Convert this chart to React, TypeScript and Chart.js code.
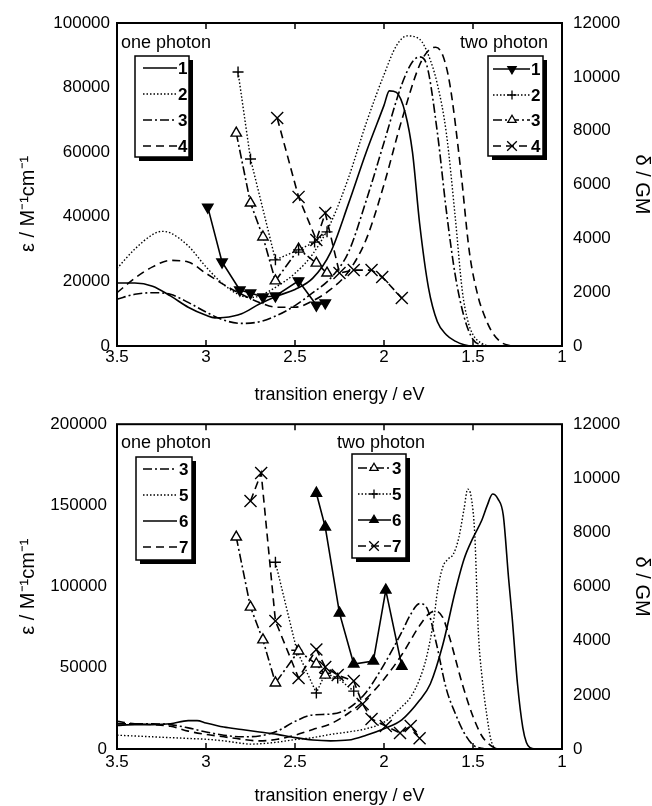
import { useEffect, useRef } from 'react'
import { Chart, registerables, type ChartConfiguration, type Plugin } from 'chart.js'

Chart.register(...registerables)

const FONT = '"Liberation Sans", Arial, Helvetica, sans-serif'

// ---- top panel, one photon (ε / M-1 cm-1) ----
const topEnergy1 = [3.5, 3.4, 3.3, 3.2, 3.1, 3.0, 2.95, 2.9, 2.8, 2.7, 2.6, 2.5, 2.4, 2.3, 2.2, 2.1, 2.0, 1.97, 1.93, 1.88, 1.84, 1.8, 1.75, 1.7, 1.65, 1.6, 1.55, 1.5, 1.0]
const topEps1 = [19500, 19500, 18500, 15500, 12000, 9500, 8700, 8800, 10000, 13000, 15500, 17500, 21000, 29000, 44000, 60000, 74500, 79000, 78500, 72000, 60000, 38000, 18000, 7500, 3500, 1500, 400, 0, 0]
const topEnergy2 = [3.5, 3.4, 3.3, 3.25, 3.2, 3.1, 3.0, 2.9, 2.8, 2.75, 2.7, 2.6, 2.5, 2.4, 2.3, 2.2, 2.1, 2.0, 1.93, 1.87, 1.8, 1.75, 1.7, 1.65, 1.6, 1.56, 1.53, 1.5, 1.45, 1.4, 1.0]
const topEps2 = [24000, 30000, 34500, 35500, 35000, 31000, 24500, 19000, 15500, 15000, 15500, 18500, 22500, 28500, 38000, 52000, 69000, 84000, 93000, 96000, 95000, 90000, 81000, 66000, 40000, 17000, 8000, 3500, 800, 0, 0]
const topEnergy3 = [3.5, 3.4, 3.3, 3.2, 3.1, 3.0, 2.9, 2.8, 2.7, 2.6, 2.5, 2.4, 2.3, 2.2, 2.1, 2.0, 1.9, 1.84, 1.8, 1.76, 1.7, 1.65, 1.6, 1.55, 1.5, 1.45, 1.4, 1.0]
const topEps3 = [14500, 16000, 16500, 16000, 13500, 10500, 8000, 7000, 7500, 9500, 12500, 16500, 21000, 29000, 45000, 63000, 81000, 88000, 89500, 87000, 66000, 42000, 22000, 9000, 2000, 300, 0, 0]
const topEnergy4 = [3.5, 3.4, 3.3, 3.2, 3.1, 3.0, 2.9, 2.8, 2.7, 2.6, 2.5, 2.4, 2.3, 2.2, 2.1, 2.0, 1.9, 1.8, 1.75, 1.71, 1.67, 1.63, 1.57, 1.52, 1.47, 1.44, 1.4, 1.35, 1.3, 1.25, 1.0]
const topEps4 = [16500, 21000, 24500, 26500, 26000, 22500, 19000, 16000, 13500, 12000, 12000, 14000, 17500, 23000, 33000, 50000, 70000, 87000, 91500, 92500, 90000, 81000, 55000, 29000, 15000, 10000, 5000, 1500, 200, 0, 0]

// ---- top panel, two photon (δ / GM) ----
const topTpEnergy1 = [2.99, 2.91, 2.81, 2.75, 2.68, 2.61, 2.48, 2.38, 2.33]
const topTpDelta1 = [5160, 3120, 2080, 1970, 1820, 1860, 2420, 1520, 1600]
const topTpEnergy2 = [2.82, 2.75, 2.61, 2.48, 2.39, 2.32]
const topTpDelta2 = [10180, 6950, 3200, 3570, 3860, 4240]
const topTpEnergy3 = [2.83, 2.75, 2.68, 2.61, 2.48, 2.38, 2.32]
const topTpDelta3 = [7910, 5310, 4050, 2420, 3600, 3080, 2710]
const topTpEnergy4 = [2.6, 2.48, 2.38, 2.33, 2.25, 2.17, 2.07, 2.01, 1.9]
const topTpDelta4 = [8470, 5540, 3940, 4940, 2710, 2820, 2820, 2560, 1780]

// ---- bottom panel, one photon ----
const botEnergy3 = [3.5, 3.4, 3.3, 3.2, 3.1, 3.0, 2.9, 2.8, 2.7, 2.6, 2.5, 2.4, 2.3, 2.2, 2.1, 2.0, 1.9, 1.85, 1.8, 1.76, 1.71, 1.65, 1.6, 1.55, 1.5, 1.45, 1.4, 1.0]
const botEps3 = [15500, 15500, 15500, 15000, 13000, 10500, 8500, 7500, 8000, 11000, 17000, 21000, 21500, 25000, 35000, 52000, 72000, 83000, 89500, 87000, 67000, 37000, 22000, 10000, 2500, 400, 0, 0]
const botEnergy5 = [3.5, 3.4, 3.3, 3.2, 3.1, 3.0, 2.9, 2.8, 2.75, 2.7, 2.6, 2.5, 2.4, 2.3, 2.2, 2.1, 2.0, 1.9, 1.85, 1.8, 1.76, 1.72, 1.7, 1.67, 1.64, 1.61, 1.58, 1.55, 1.53, 1.51, 1.49, 1.47, 1.45, 1.42, 1.4, 1.38, 1.35, 1.0]
const botEps5 = [8500, 8000, 7500, 7000, 6500, 6000, 5000, 3500, 3000, 3200, 4200, 5800, 7000, 9000, 10500, 12500, 16500, 26000, 32000, 43000, 57000, 80000, 97000, 112000, 117000, 120000, 130000, 148000, 160000, 155000, 132000, 72000, 45000, 19000, 6000, 1000, 0, 0]
const botEnergy6 = [3.5, 3.4, 3.3, 3.2, 3.1, 3.05, 3.0, 2.9, 2.8, 2.7, 2.6, 2.5, 2.4, 2.3, 2.2, 2.1, 2.0, 1.9, 1.8, 1.74, 1.67, 1.6, 1.55, 1.5, 1.45, 1.42, 1.39, 1.36, 1.33, 1.3, 1.28, 1.25, 1.22, 1.2, 1.18, 1.15, 1.0]
const botEps6 = [14500, 15000, 15000, 15500, 17500, 17500, 16000, 13500, 12000, 10500, 9000, 7000, 5500, 5000, 5500, 8500, 12500, 18000, 30000, 40000, 64000, 97000, 117000, 130000, 141000, 150000, 157000, 154000, 144000, 105000, 81000, 40000, 13000, 4000, 800, 0, 0]
const botEnergy7 = [3.5, 3.4, 3.3, 3.2, 3.1, 3.0, 2.9, 2.8, 2.7, 2.6, 2.5, 2.4, 2.3, 2.2, 2.1, 2.0, 1.9, 1.8, 1.75, 1.71, 1.67, 1.63, 1.56, 1.5, 1.45, 1.42, 1.38, 1.35, 1.0]
const botEps7 = [17000, 15500, 15000, 14000, 11000, 9000, 7500, 6000, 5000, 6000, 8500, 12000, 15500, 22000, 31000, 43000, 58000, 76000, 83000, 85000, 81000, 68000, 40000, 20000, 8000, 4000, 800, 0, 0]

// ---- bottom panel, two photon ----
const botTpEnergy3 = [2.83, 2.75, 2.68, 2.61, 2.48, 2.38, 2.33]
const botTpDelta3 = [7830, 5240, 4030, 2440, 3620, 3140, 2730]
const botTpEnergy5 = [2.61, 2.49, 2.38, 2.33, 2.26, 2.17]
const botTpDelta5 = [6900, 3650, 2070, 2800, 2620, 2140]
const botTpEnergy6 = [2.38, 2.33, 2.25, 2.17, 2.06, 1.99, 1.9]
const botTpDelta6 = [9450, 8200, 5020, 3140, 3250, 5870, 3060]
const botTpEnergy7 = [2.75, 2.69, 2.61, 2.48, 2.38, 2.33, 2.26, 2.17, 2.12, 2.07, 1.99, 1.91, 1.85, 1.8]
const botTpDelta7 = [9160, 10200, 4730, 2620, 3680, 3030, 2730, 2510, 1660, 1110, 850, 590, 850, 400]

const energyTicks = [3.5, 3, 2.5, 2, 1.5, 1]

type LineStyle = { dash: number[]; width: number }
const SOLID: LineStyle = { dash: [], width: 1.6 }
const DOTTED: LineStyle = { dash: [1.5, 2], width: 1.4 }
const DASHDOT: LineStyle = { dash: [9, 3, 2, 3], width: 1.6 }
const DASHED: LineStyle = { dash: [8, 5], width: 1.6 }

type Marker = { style: 'triangle' | 'cross' | 'crossRot'; rotation: number; fill: string; radius: number }
const TRI_DOWN: Marker = { style: 'triangle', rotation: 180, fill: '#000', radius: 6 }
const TRI_UP: Marker = { style: 'triangle', rotation: 0, fill: '#000', radius: 6 }
const TRI_OPEN: Marker = { style: 'triangle', rotation: 0, fill: '#fff', radius: 6 }
const PLUS: Marker = { style: 'cross', rotation: 0, fill: '#000', radius: 5.5 }
const XMARK: Marker = { style: 'crossRot', rotation: 0, fill: '#000', radius: 8.5 }

const xy = (xs: number[], ys: number[]) => xs.map((x, i) => ({ x, y: ys[i] }))

const onePhoton = (xs: number[], ys: number[], s: LineStyle) => ({
  data: xy(xs, ys),
  yAxisID: 'y',
  borderColor: '#000',
  borderWidth: s.width,
  borderDash: s.dash,
  pointRadius: 0,
  cubicInterpolationMode: 'monotone' as const,
  fill: false,
})

const twoPhoton = (xs: number[], ys: number[], s: LineStyle, m: Marker) => ({
  data: xy(xs, ys),
  yAxisID: 'y2',
  borderColor: '#000',
  borderWidth: s.width,
  borderDash: s.dash,
  tension: 0,
  pointStyle: m.style,
  pointRotation: m.rotation,
  pointRadius: m.radius,
  pointBackgroundColor: m.fill,
  pointBorderColor: '#000',
  pointBorderWidth: 1.4,
  fill: false,
})

const drawMarker = (ctx: CanvasRenderingContext2D, m: Marker, x: number, y: number, r: number) => {
  ctx.beginPath()
  if (m.style === 'triangle') {
    let rad = (m.rotation * Math.PI) / 180
    for (let i = 0; i < 3; i++) {
      const px = x + Math.sin(rad) * r
      const py = y - Math.cos(rad) * r
      if (i === 0) ctx.moveTo(px, py)
      else ctx.lineTo(px, py)
      rad += (2 * Math.PI) / 3
    }
    ctx.closePath()
    ctx.fillStyle = m.fill
    ctx.fill()
  } else if (m.style === 'cross') {
    ctx.moveTo(x, y - r)
    ctx.lineTo(x, y + r)
    ctx.moveTo(x - r, y)
    ctx.lineTo(x + r, y)
  } else {
    const o = r * Math.SQRT1_2
    ctx.moveTo(x - o, y - o)
    ctx.lineTo(x + o, y + o)
    ctx.moveTo(x - o, y + o)
    ctx.lineTo(x + o, y - o)
  }
  ctx.stroke()
}

type LegendRow = { label: string; line: LineStyle; marker?: Marker }
type LegendBox = {
  heading: string
  headX: number
  headY: number
  x: number
  y: number
  w: number
  h: number
  lineX0: number
  lineX1: number
  markX: number
  labelX: number
  rowY: number[]
  rows: LegendRow[]
}

const boxLegends = (boxes: LegendBox[]): Plugin<'line'> => ({
  id: 'boxLegends',
  afterDraw(chart) {
    const { ctx } = chart
    ctx.save()
    ctx.textBaseline = 'middle'
    ctx.textAlign = 'left'
    for (const b of boxes) {
      ctx.setLineDash([])
      ctx.fillStyle = '#000'
      ctx.font = `18px ${FONT}`
      ctx.fillText(b.heading, b.headX, b.headY)
      ctx.fillRect(b.x + 4, b.y + 4, b.w, b.h)
      ctx.fillStyle = '#fff'
      ctx.fillRect(b.x, b.y, b.w, b.h)
      ctx.strokeStyle = '#000'
      ctx.lineWidth = 1.5
      ctx.strokeRect(b.x, b.y, b.w, b.h)
      b.rows.forEach((row, i) => {
        const y = b.rowY[i]
        ctx.setLineDash(row.line.dash)
        ctx.lineWidth = row.line.width
        ctx.beginPath()
        ctx.moveTo(b.lineX0, y)
        ctx.lineTo(b.lineX1, y)
        ctx.stroke()
        ctx.setLineDash([])
        if (row.marker) {
          ctx.lineWidth = 1.3
          drawMarker(ctx, row.marker, b.markX, y, row.marker.radius * 0.8)
        }
        ctx.fillStyle = '#000'
        ctx.font = `bold 17px ${FONT}`
        ctx.fillText(row.label, b.labelX, y + 1)
      })
    }
    ctx.restore()
  },
})

const frameTicks: Plugin<'line'> = {
  id: 'frameTicks',
  afterDatasetsDraw(chart) {
    const { ctx, chartArea, scales } = chart
    const { left, right, top, bottom } = chartArea
    ctx.save()
    ctx.strokeStyle = '#000'
    ctx.lineWidth = 2
    ctx.strokeRect(left, top, right - left, bottom - top)
    ctx.lineWidth = 1.5
    ctx.beginPath()
    for (const t of scales.x.ticks) {
      const px = scales.x.getPixelForValue(t.value)
      ctx.moveTo(px, bottom)
      ctx.lineTo(px, bottom - 6)
      ctx.moveTo(px, top)
      ctx.lineTo(px, top + 6)
    }
    ctx.stroke()
    ctx.restore()
  },
}

type PanelSpec = {
  datasets: any[]
  yMax: number
  yStep: number
  leftTitle: string
  padTop: number
  xAxisHeight: number
  xTickPad: number
  xTitlePad: number
  leftTickPad: number
  legends: LegendBox[]
}

const buildConfig = (p: PanelSpec): ChartConfiguration<'line'> => {
  const tickFont = { family: FONT, size: 17 }
  const titleFont = { family: FONT, size: 18, lineHeight: 1 }
  const sideTitleFont = { family: FONT, size: 20, lineHeight: 1 }
  return {
    type: 'line',
    data: { datasets: p.datasets },
    options: {
      animation: false,
      responsive: true,
      maintainAspectRatio: false,
      events: [],
      layout: { padding: { top: p.padTop, left: 0, right: 0, bottom: 0 } },
      scales: {
        x: {
          type: 'linear',
          reverse: true,
          min: 1,
          max: 3.5,
          afterBuildTicks: (s) => {
            s.ticks = energyTicks.map((value) => ({ value }))
          },
          ticks: {
            color: '#000',
            font: tickFont,
            padding: p.xTickPad,
            maxRotation: 0,
            autoSkip: false,
            callback: (v) => String(v),
          },
          grid: { display: false, drawTicks: false },
          border: { display: false },
          title: {
            display: true,
            text: 'transition energy / eV',
            color: '#000',
            font: titleFont,
            padding: { top: 0, bottom: p.xTitlePad },
          },
          afterFit: (s) => {
            s.height = p.xAxisHeight
          },
        },
        y: {
          position: 'left',
          min: 0,
          max: p.yMax,
          ticks: {
            stepSize: p.yStep,
            color: '#000',
            font: tickFont,
            padding: p.leftTickPad,
            callback: (v) => String(v),
          },
          grid: { display: false, drawTicks: false },
          border: { display: false },
          title: {
            display: true,
            text: p.leftTitle,
            color: '#000',
            font: sideTitleFont,
            padding: { top: 18, bottom: 0 },
          },
          afterFit: (s) => {
            s.width = 117
          },
        },
        y2: {
          position: 'right',
          min: 0,
          max: 12000,
          ticks: {
            stepSize: 2000,
            color: '#000',
            font: tickFont,
            padding: 11,
            callback: (v) => String(v),
          },
          grid: { display: false, drawTicks: false },
          border: { display: false },
          title: {
            display: true,
            text: 'δ / GM',
            color: '#000',
            font: sideTitleFont,
            padding: { top: 0, bottom: 0 },
          },
          afterFit: (s) => {
            s.width = 90
          },
        },
      },
      plugins: {
        legend: { display: false },
        tooltip: { enabled: false },
      },
    },
    plugins: [frameTicks, boxLegends(p.legends)],
  }
}

const topSpec: PanelSpec = {
  datasets: [
    twoPhoton(topTpEnergy1, topTpDelta1, SOLID, TRI_DOWN),
    twoPhoton(topTpEnergy2, topTpDelta2, DOTTED, PLUS),
    twoPhoton(topTpEnergy3, topTpDelta3, DASHDOT, TRI_OPEN),
    twoPhoton(topTpEnergy4, topTpDelta4, DASHED, XMARK),
    onePhoton(topEnergy1, topEps1, SOLID),
    onePhoton(topEnergy2, topEps2, DOTTED),
    onePhoton(topEnergy3, topEps3, DASHDOT),
    onePhoton(topEnergy4, topEps4, DASHED),
  ],
  yMax: 100000,
  yStep: 20000,
  leftTitle: 'ε / M⁻¹cm⁻¹       ',
  padTop: 23,
  xAxisHeight: 64,
  xTickPad: 1,
  xTitlePad: 6,
  leftTickPad: 7,
  legends: [
    {
      heading: 'one photon',
      headX: 121,
      headY: 43,
      x: 135,
      y: 56,
      w: 54,
      h: 101,
      lineX0: 143,
      lineX1: 177,
      markX: 160,
      labelX: 178,
      rowY: [68, 94, 120, 146],
      rows: [
        { label: '1', line: SOLID },
        { label: '2', line: DOTTED },
        { label: '3', line: DASHDOT },
        { label: '4', line: DASHED },
      ],
    },
    {
      heading: 'two photon',
      headX: 460,
      headY: 43,
      x: 488,
      y: 56,
      w: 55,
      h: 100,
      lineX0: 493,
      lineX1: 530,
      markX: 512,
      labelX: 531,
      rowY: [69, 95, 120, 146],
      rows: [
        { label: '1', line: SOLID, marker: TRI_DOWN },
        { label: '2', line: DOTTED, marker: PLUS },
        { label: '3', line: DASHDOT, marker: TRI_OPEN },
        { label: '4', line: DASHED, marker: XMARK },
      ],
    },
  ],
}

const bottomSpec: PanelSpec = {
  datasets: [
    twoPhoton(botTpEnergy3, botTpDelta3, DASHDOT, TRI_OPEN),
    twoPhoton(botTpEnergy5, botTpDelta5, DOTTED, PLUS),
    twoPhoton(botTpEnergy6, botTpDelta6, SOLID, TRI_UP),
    twoPhoton(botTpEnergy7, botTpDelta7, DASHED, XMARK),
    onePhoton(botEnergy3, botEps3, DASHDOT),
    onePhoton(botEnergy5, botEps5, DOTTED),
    onePhoton(botEnergy6, botEps6, SOLID),
    onePhoton(botEnergy7, botEps7, DASHED),
  ],
  yMax: 200000,
  yStep: 50000,
  leftTitle: 'ε / M⁻¹cm⁻¹',
  padTop: 21,
  xAxisHeight: 57,
  xTickPad: 3,
  xTitlePad: 1,
  leftTickPad: 10,
  legends: [
    {
      heading: 'one photon',
      headX: 121,
      headY: 40,
      x: 136,
      y: 54,
      w: 56,
      h: 103,
      lineX0: 143,
      lineX1: 177,
      markX: 160,
      labelX: 179,
      rowY: [66, 92, 118, 144],
      rows: [
        { label: '3', line: DASHDOT },
        { label: '5', line: DOTTED },
        { label: '6', line: SOLID },
        { label: '7', line: DASHED },
      ],
    },
    {
      heading: 'two photon',
      headX: 337,
      headY: 40,
      x: 352,
      y: 51,
      w: 54,
      h: 104,
      lineX0: 358,
      lineX1: 391,
      markX: 374,
      labelX: 392,
      rowY: [65, 91, 117, 143],
      rows: [
        { label: '3', line: DASHDOT, marker: TRI_OPEN },
        { label: '5', line: DOTTED, marker: PLUS },
        { label: '6', line: SOLID, marker: TRI_UP },
        { label: '7', line: DASHED, marker: XMARK },
      ],
    },
  ],
}

const Panel = ({ spec, top, height }: { spec: PanelSpec; top: number; height: number }) => {
  const canvasRef = useRef<HTMLCanvasElement | null>(null)

  useEffect(() => {
    if (!canvasRef.current) {
      return undefined
    }
    const chart = new Chart(canvasRef.current, buildConfig(spec))
    return () => {
      chart.destroy()
    }
  }, [spec])

  return (
    <div style={{ position: 'absolute', left: 0, top, width: 652, height }}>
      <canvas ref={canvasRef} />
    </div>
  )
}

const App = () => (
  <div style={{ position: 'fixed', left: 0, top: 0, width: 652, height: 806, background: '#fff' }}>
    <Panel spec={topSpec} top={0} height={410} />
    <Panel spec={bottomSpec} top={403} height={403} />
  </div>
)

export default App
